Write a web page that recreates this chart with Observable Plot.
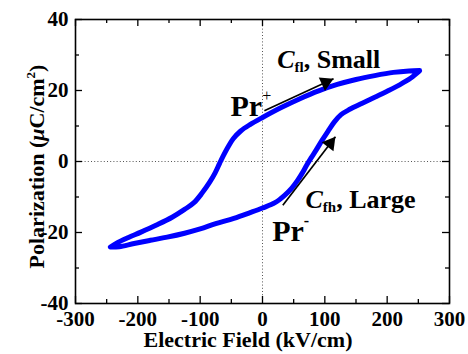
<!DOCTYPE html>
<html><head><meta charset="utf-8">
<script src="https://cdn.jsdelivr.net/npm/d3@7"></script>
<script src="https://cdn.jsdelivr.net/npm/@observablehq/plot@0.6"></script>
<style>body{margin:0;background:#fff} svg{display:block}</style>
</head><body><div id="chart"></div>
<script>
// Upper (descending-field) branch of the P-E loop
const upperField = [252, 235, 210, 180, 150, 120, 90, 60, 30, 0, -20, -35, -47, -56, -63, -69, -76, -85, -97, -110, -125, -145, -170, -195, -215, -232, -244];
const upperPol   = [25.6, 25.5, 25.1, 24.2, 23.1, 21.7, 19.9, 17.7, 15.2, 12.4, 10.4, 8.6, 6.4, 3.9, 1.6, -0.6, -3.2, -5.9, -8.9, -11.6, -13.5, -15.7, -17.9, -19.9, -21.4, -22.8, -24.1];
// Lower (ascending-field) branch
const lowerField = [-244, -230, -206, -180, -153, -125, -100, -75, -46, -20, 0, 20, 35, 47, 56, 64, 71, 78, 86, 95, 105, 115, 126, 140, 160, 180, 200, 220, 238, 252];
const lowerPol   = [-24.1, -24.0, -23.1, -22.2, -21.3, -20.2, -19.0, -17.5, -16.0, -14.4, -13.1, -11.6, -9.6, -7.5, -5.4, -3.2, -1.0, 1.0, 3.2, 5.8, 8.5, 11.1, 13.2, 14.7, 16.4, 18.1, 19.8, 21.6, 23.5, 25.5];

const xTicks = [-300, -200, -100, 0, 100, 200, 300];
const xTickLabels = ["-300", "-200", "-100", "0", "100", "200", "300"];
const xMinor = [-250, -150, -50, 50, 150, 250];
const yTicks = [-40, -20, 0, 20, 40];
const yTickLabels = ["-40", "-20", "0", "20", "40"];
const yMinor = [-30, -10, 10, 30];

const xLabel = "Electric Field (kV/cm)";
const yLabel = "Polarization (μC/cm2)";

// Annotation arrows (start -> head), in data units
const arrowStart = [[3, 14.3], [32.6, -12.3]];
const arrowEnd   = [[114, 23.3], [117, 7.0]];

// Annotation labels and their anchor points (data units)
const noteText = ["Cfl, Small", "Cfh, Large", "Pr+", "Pr-"];
const noteX = [23.6, 69, -51.3, 15.6];
const noteY = [26.3, -13.0, 12.7, -22.3];
const noteSize = [26, 26, 30, 30];

const serif = "'Liberation Serif','Times New Roman',Times,serif";

const loop = [
  ...upperField.map((e, i) => ({E: e, P: upperPol[i]})),
  ...lowerField.map((e, i) => ({E: e, P: lowerPol[i]}))
];
const notes = noteText.map((t, i) => ({t, x: noteX[i], y: noteY[i], s: noteSize[i]}));
const arrows = arrowStart.map((s, i) => ({x1: s[0], y1: s[1], x2: arrowEnd[i][0], y2: arrowEnd[i][1]}));

const W = 468, H = 354, mL = 75, mR = 19, mT = 19, mB = 51;
const fw = W - mL - mR, fh = H - mT - mB;
const majorLen = 7, minorLen = 4;
const tickStyle = {stroke: "black", strokeWidth: 1.3};

function build(extra) {
  return Plot.plot({
    width: W, height: H,
    marginLeft: mL, marginRight: mR, marginTop: mT, marginBottom: mB,
    style: {fontFamily: serif, background: "white", color: "black"},
    x: {domain: [-300, 300]},
    y: {domain: [-40, 40]},
    marks: [
      Plot.ruleX([0], {stroke: "#555", strokeDasharray: "1,2.2", strokeWidth: 1}),
      Plot.ruleY([0], {stroke: "#555", strokeDasharray: "1,2.2", strokeWidth: 1}),
      Plot.line(loop, {x: "E", y: "P", stroke: "#0000ff", strokeWidth: 5, curve: "catmull-rom", strokeLinejoin: "round", strokeLinecap: "round"}),
      // tick labels
      Plot.axisX({anchor: "bottom", ticks: xTicks, tickSize: 0, tickPadding: 8, tickFormat: d => xTickLabels[xTicks.indexOf(d)], fontSize: 21, fontWeight: "bold", label: null}),
      Plot.axisY({anchor: "left", ticks: yTicks, tickSize: 0, tickPadding: 7, tickFormat: d => yTickLabels[yTicks.indexOf(d)], fontSize: 21, fontWeight: "bold", label: null}),
      // inward ticks on all four sides
      Plot.tickX(xTicks, {x: d => d, insetTop: fh - majorLen, ...tickStyle}),
      Plot.tickX(xMinor, {x: d => d, insetTop: fh - minorLen, ...tickStyle}),
      Plot.tickX(xTicks, {x: d => d, insetBottom: fh - majorLen, ...tickStyle}),
      Plot.tickX(xMinor, {x: d => d, insetBottom: fh - minorLen, ...tickStyle}),
      Plot.tickY(yTicks, {y: d => d, insetRight: fw - majorLen, ...tickStyle}),
      Plot.tickY(yMinor, {y: d => d, insetRight: fw - minorLen, ...tickStyle}),
      Plot.tickY(yTicks, {y: d => d, insetLeft: fw - majorLen, ...tickStyle}),
      Plot.tickY(yMinor, {y: d => d, insetLeft: fw - minorLen, ...tickStyle}),
      Plot.frame({stroke: "black", strokeWidth: 1.6}),
      // axis titles
      Plot.text([xLabel], {text: d => d, frameAnchor: "bottom", textAnchor: "middle", dx: -14.5, dy: 43.7, lineAnchor: "bottom", fontSize: 22, fontWeight: "bold", fill: "black"}),
      Plot.text([yLabel], {text: d => d, frameAnchor: "left", textAnchor: "middle", rotate: -90, dx: -32, dy: 5, lineAnchor: "bottom", fontSize: 22, fontWeight: "bold", fill: "black"}),
      // annotations
      Plot.text(notes, {x: "x", y: "y", text: "t", fontSize: "s", textAnchor: "start", lineAnchor: "bottom", fontWeight: "bold", fill: "black"}),
      ...extra
    ]
  });
}

const base = build([]);
const sx = base.scale("x"), sy = base.scale("y");
const arrowMarks = arrows.flatMap(a => {
  const px1 = sx.apply(a.x1), py1 = sy.apply(a.y1), px2 = sx.apply(a.x2), py2 = sy.apply(a.y2);
  const ang = Math.atan2(py2 - py1, px2 - px1);
  const back = 8.6;
  return [
    Plot.link([a], {x1: "x1", y1: "y1", x2: "x2", y2: "y2", stroke: "black", strokeWidth: 1.7}),
    Plot.dot([a], {x: "x2", y: "y2", dx: -back * Math.cos(ang), dy: -back * Math.sin(ang), symbol: "triangle", r: 5.5, fill: "black", stroke: "none", rotate: ang * 180 / Math.PI + 90})
  ];
});

const chart = build(arrowMarks);

// rich text: italics, sub- and superscripts
const NS = "http://www.w3.org/2000/svg";
const richParts = {
  "Cfl, Small": [{t: "C", italic: true}, {t: "fl", size: 15, dy: 4}, {t: ", Small", dy: -4}],
  "Cfh, Large": [{t: "C", italic: true}, {t: "fh", size: 15, dy: 4}, {t: ", Large", dy: -4}],
  "Pr+": [{t: "Pr"}, {t: "+", size: 16, dy: -15, weight: "normal"}],
  "Pr-": [{t: "Pr"}, {t: "-", size: 16, dy: -15}],
  [yLabel]: [{t: "Polarization ("}, {t: "μ", italic: true}, {t: "C/cm"}, {t: "2", size: 13, dy: -9}, {t: ")", dy: 9}]
};
chart.querySelectorAll("text").forEach(el => {
  const parts = richParts[el.textContent];
  if (!parts) return;
  el.textContent = "";
  parts.forEach(p => {
    const ts = document.createElementNS(NS, "tspan");
    ts.textContent = p.t;
    if (p.italic) ts.setAttribute("font-style", "italic");
    if (p.size) ts.setAttribute("font-size", p.size);
    if (p.dy) ts.setAttribute("dy", p.dy);
    if (p.weight) ts.setAttribute("font-weight", p.weight);
    el.appendChild(ts);
  });
});

document.getElementById("chart").appendChild(chart);
</script>
</body></html>
